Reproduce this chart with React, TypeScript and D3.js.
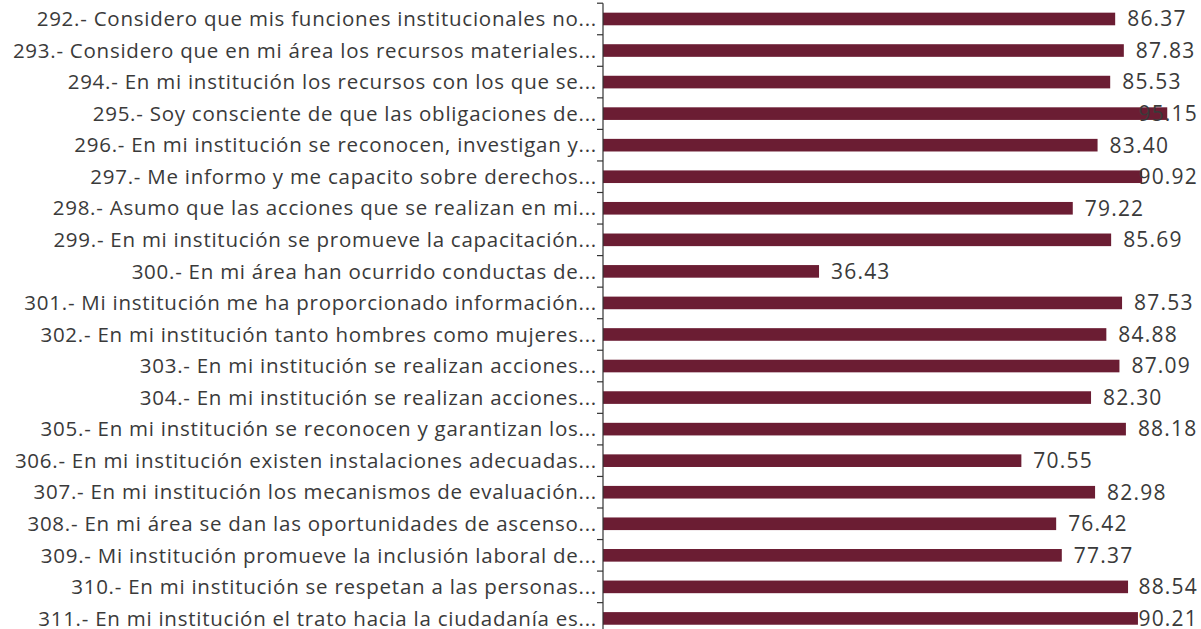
import React, { useEffect, useRef } from "react";
import * as d3 from "d3";

const labels = [
  "292.- Considero que mis funciones institucionales no...",
  "293.- Considero que en mi área los recursos materiales...",
  "294.- En mi institución los recursos con los que se...",
  "295.- Soy consciente de que las obligaciones de...",
  "296.- En mi institución se reconocen, investigan y...",
  "297.- Me informo y me capacito sobre derechos...",
  "298.- Asumo que las acciones que se realizan en mi...",
  "299.- En mi institución se promueve la capacitación...",
  "300.- En mi área han ocurrido conductas de...",
  "301.- Mi institución me ha proporcionado información...",
  "302.- En mi institución tanto hombres como mujeres...",
  "303.- En mi institución se realizan acciones...",
  "304.- En mi institución se realizan acciones...",
  "305.- En mi institución se reconocen y garantizan los...",
  "306.- En mi institución existen instalaciones adecuadas...",
  "307.- En mi institución los mecanismos de evaluación...",
  "308.- En mi área se dan las oportunidades de ascenso...",
  "309.- Mi institución promueve la inclusión laboral de...",
  "310.- En mi institución se respetan a las personas...",
  "311.- En mi institución el trato hacia la ciudadanía es...",
];

const values = [
  86.37, 87.83, 85.53, 95.15, 83.4, 90.92, 79.22, 85.69, 36.43, 87.53, 84.88,
  87.09, 82.3, 88.18, 70.55, 82.98, 76.42, 77.37, 88.54, 90.21,
];

const W = 1201;
const H = 629;
const FONT = "'Open Sans', sans-serif";

export default function App() {
  const ref = useRef<SVGSVGElement>(null);

  useEffect(() => {
    const svg = d3.select(ref.current);
    svg.selectAll("*").remove();

    const data = labels.map((l, i) => ({ label: l, value: values[i] }));

    const x = d3.scaleLinear().domain([0, 100]).range([603, 1196]);
    const y = d3
      .scaleBand()
      .domain(labels)
      .range([3.2, 634.2])
      .paddingInner(0.6)
      .paddingOuter(0.3);

    // bars
    svg
      .append("g")
      .selectAll("rect")
      .data(data)
      .join("rect")
      .attr("x", x(0))
      .attr("y", (d) => y(d.label)!)
      .attr("width", (d) => x(d.value) - x(0))
      .attr("height", y.bandwidth())
      .attr("fill", "#6b1d33");

    // y axis: line + ticks between categories
    const axis = svg.append("g");
    const step = y.step();
    const top = y.range()[0];
    axis
      .append("line")
      .attr("x1", x(0))
      .attr("x2", x(0))
      .attr("y1", top)
      .attr("y2", top + step * labels.length)
      .attr("stroke", "#333")
      .attr("stroke-width", 1.2);
    axis
      .selectAll("line.tick")
      .data(d3.range(labels.length + 1))
      .join("line")
      .attr("class", "tick")
      .attr("x1", x(0) - 6)
      .attr("x2", x(0))
      .attr("y1", (i) => top + i * step)
      .attr("y2", (i) => top + i * step)
      .attr("stroke", "#333")
      .attr("stroke-width", 1.2);

    axis
      .selectAll("text")
      .data(data)
      .join("text")
      .attr("x", x(0) - 6)
      .attr("y", (d) => y(d.label)! + y.bandwidth() / 2)
      .attr("dy", "0.35em")
      .attr("text-anchor", "end")
      .attr("font-family", FONT)
      .attr("font-size", 20.5)
      .attr("letter-spacing", 0.75)
      .attr("fill", "#3a3a3a")
      .text((d) => d.label);

    // value labels, kept inside the right edge
    svg
      .append("g")
      .selectAll("text")
      .data(data)
      .join("text")
      .attr("y", (d) => y(d.label)! + y.bandwidth() / 2)
      .attr("dy", "0.35em")
      .attr("font-family", FONT)
      .attr("font-size", 21)
      .attr("letter-spacing", 1.2)
      .attr("fill", "#3a3a3a")
      .text((d) => d.value.toFixed(2))
      .attr("x", function (d) {
        const w = (this as SVGTextElement).getComputedTextLength();
        return Math.min(x(d.value) + 12, W - 3 - w);
      });
  }, []);

  return (
    <svg
      ref={ref}
      width={W}
      height={H}
      style={{ position: "absolute", left: 0, top: 0, background: "#fff" }}
    />
  );
}
